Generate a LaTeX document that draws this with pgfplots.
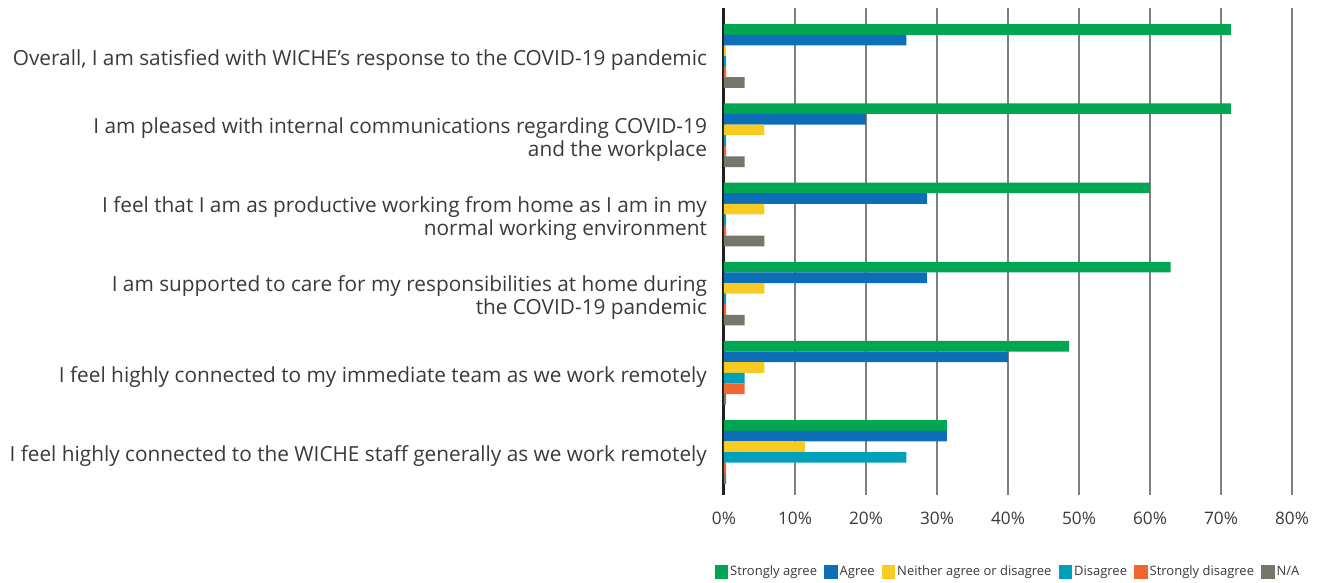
\documentclass[border=0pt]{standalone}
\usepackage{fontspec}
\setmainfont{Open Sans}
\usepackage{pgfplots}
\pgfplotsset{compat=1.18}
\usepackage{pgfplotstable}
\definecolor{cSA}{HTML}{00A651}
\definecolor{cAG}{HTML}{0D6EB8}
\definecolor{cNE}{HTML}{F7CB22}
\definecolor{cDI}{HTML}{009FBA}
\definecolor{cSD}{HTML}{F26631}
\definecolor{cNA}{HTML}{76766B}
\definecolor{gridgray}{HTML}{7F7F7F}
\definecolor{axisdark}{HTML}{231F20}
\definecolor{labelgray}{HTML}{3A3A3A}

\pgfplotstableread{
idx SA AG NE DI SD NA
0 71.4 25.7 0.3 0.3 0.3 2.9
1 71.4 20.0 5.7 0.3 0.3 2.9
2 60.0 28.6 5.7 0.3 0.3 5.7
3 62.9 28.6 5.7 0.3 0.3 2.9
4 48.6 40.0 5.7 2.9 2.9 0.3
5 31.4 31.4 11.4 25.7 0.3 0.3
}\datatable

\begin{document}
\begin{tikzpicture}
\begin{axis}[
  name=ax,
  scale only axis,
  width=284pt, height=243.5pt,
  xbar, bar width=0.134,
  xmin=0, xmax=80,
  ymin=-0.606, ymax=5.543,
  y dir=reverse,
  xtick={0,10,...,80},
  xticklabel={\pgfmathprintnumber{\tick}\%},
  ytick={0,...,5},
  yticklabels={
    {Overall, I am satisfied with WICHE’s response to the COVID-19 pandemic},
    {I am pleased with internal communications regarding COVID-19\\and the workplace},
    {I feel that I am as productive working from home as I am in my\\normal working environment},
    {I am supported to care for my responsibilities at home during\\the COVID-19 pandemic},
    {I feel highly connected to my immediate team as we work remotely},
    {I feel highly connected to the WICHE staff generally as we work remotely}
  },
  major tick length=0pt,
  xmajorgrids, grid style={color=gridgray, line width=1pt},
  axis x line*=bottom, axis y line*=left,
  x axis line style={draw=none},
  y axis line style={draw=axisdark, line width=1.5pt, -},
  tick label style={text=labelgray},
  /pgf/number format/assume math mode=true,
  xticklabel style={font=\fontsize{8.6}{10}\selectfont, yshift=-5pt},
  yticklabel style={align=right, font=\fontsize{10.4}{11.6}\selectfont, xshift=-5pt, yshift=-2pt},
  legend style={at={(0.5,0)}, anchor=north, yshift=-33pt, draw=none,
    legend columns=6, font=\fontsize{6.5}{8}\selectfont, text=labelgray,
    nodes={inner xsep=1pt},
    /tikz/every even column/.append style={column sep=2.5pt},
    inner sep=0pt},
  legend image code/.code={\fill[#1,draw=none] (0pt,-3.5pt) rectangle (6.8pt,3.5pt);},
  every axis plot/.append style={draw=none},
]
\addplot[fill=cSA, bar shift=-0.335] table[x=SA, y=idx]{\datatable};
\addplot[fill=cAG, bar shift=-0.201] table[x=AG, y=idx]{\datatable};
\addplot[fill=cNE, bar shift=-0.067] table[x=NE, y=idx]{\datatable};
\addplot[fill=cDI, bar shift=0.067] table[x=DI, y=idx]{\datatable};
\addplot[fill=cSD, bar shift=0.201] table[x=SD, y=idx]{\datatable};
\addplot[fill=cNA, bar shift=0.335] table[x=NA, y=idx]{\datatable};
\legend{Strongly agree, Agree, Neither agree or disagree, Disagree, Strongly disagree, N/A}
\end{axis}
\path ([xshift=-362pt,yshift=-43.5pt]ax.south west) rectangle ([xshift=14pt,yshift=4pt]ax.north east);
\end{tikzpicture}
\end{document}
